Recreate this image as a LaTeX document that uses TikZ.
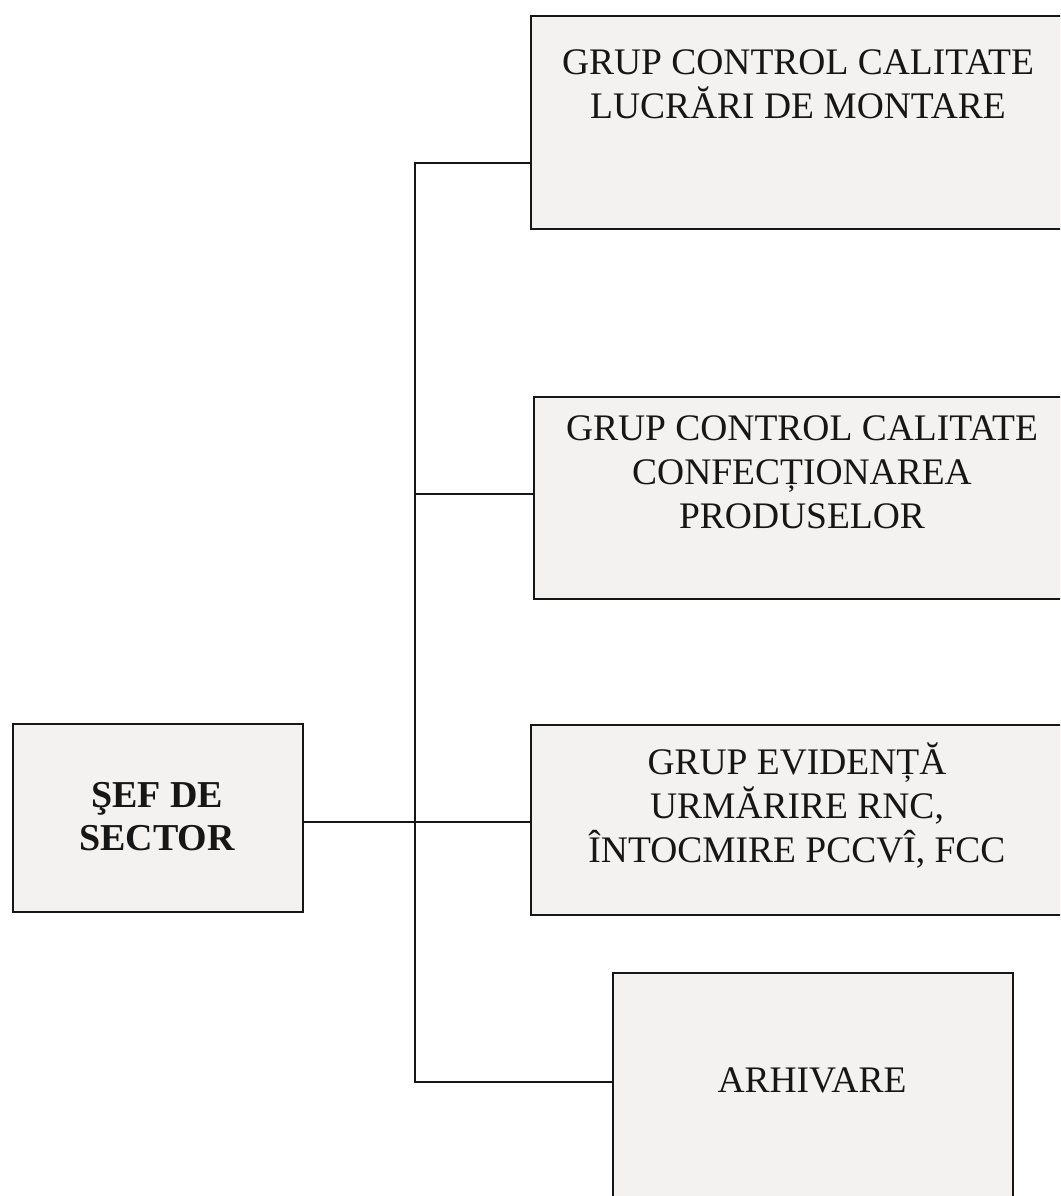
\documentclass[tikz,border=0pt]{standalone}
\usepackage{fontspec}
\setmainfont{Liberation Serif}
\definecolor{boxfill}{HTML}{F3F2F1}
\definecolor{ink}{HTML}{161616}
\begin{document}
\begin{tikzpicture}[x=1pt,y=-1pt,
  box/.style={draw=ink,line width=1.8pt,fill=boxfill},
  conn/.style={draw=ink,line width=1.5pt},
  lbl/.style={align=center,inner sep=0pt,font=\fontsize{37.5}{44}\selectfont,text=ink},
  blbl/.style={align=center,inner sep=0pt,font=\fontsize{38}{43}\selectfont\bfseries,text=ink}]
\useasboundingbox (0,0) rectangle (1060,1196);
\fill[white] (0,0) rectangle (1060,1196);
\clip (0,0) rectangle (1060,1196);
% boxes
\node[box,minimum width=540pt,minimum height=213pt,anchor=north west,inner sep=0pt] (b1) at (530,15) {};
\node[box,minimum width=540pt,minimum height=202pt,anchor=north west,inner sep=0pt] (b2) at (533,396) {};
\node[box,minimum width=540pt,minimum height=190pt,anchor=north west,inner sep=0pt] (b3) at (530,724) {};
\node[box,minimum width=400pt,minimum height=240pt,anchor=north west,inner sep=0pt] (b4) at (612,972) {};
\node[box,minimum width=290pt,minimum height=188pt,anchor=north west,inner sep=0pt] (sef) at (12,723) {};
% texts
\node[lbl] (t1) at (798,84) {GRUP CONTROL CALITATE\\LUCRĂRI DE MONTARE};
\node[lbl] (t2) at (802,472) {GRUP CONTROL CALITATE\\CONFECȚIONAREA\\PRODUSELOR};
\node[lbl] (t3) at (797,806) {GRUP EVIDENȚĂ\\URMĂRIRE RNC,\\ÎNTOCMIRE PCCVÎ, FCC};
\node[lbl] (t4) at (812,1080) {ARHIVARE};
\node[blbl] (ts) at (157,817) {ŞEF DE\\SECTOR};
% connectors
\coordinate (top) at (415,163);
\coordinate (j2) at (415,494);
\coordinate (j3) at (415,822);
\coordinate (bot) at (415,1082);
\draw[conn] (b1.west |- top) -- (top) -- (bot) -- (b4.west |- bot);
\draw[conn] (j2) -- (b2.west |- j2);
\draw[conn] (sef.east |- j3) -- (b3.west |- j3);
\end{tikzpicture}
\end{document}
